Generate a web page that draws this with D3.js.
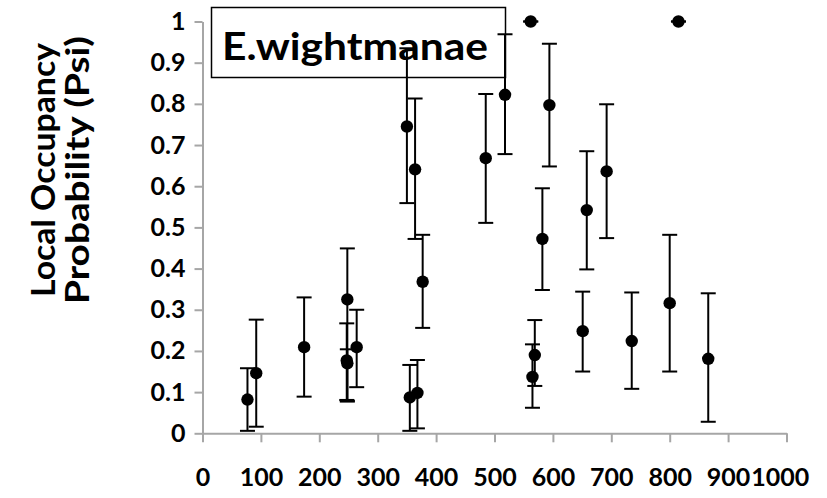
<!DOCTYPE html>
<html>
<head>
<meta charset="utf-8">
<script src="https://cdn.jsdelivr.net/npm/d3@7/dist/d3.min.js"></script>
<style>
  html, body { margin: 0; padding: 0; background: #fff; }
  svg { display: block; }
  text { font-family: Lato, "Open Sans", sans-serif; font-weight: bold; fill: #000; }
</style>
</head>
<body>
<svg id="chart" width="827" height="498"></svg>
<script>
// Site distance (x) and estimated local occupancy with its interval
const distance = [77, 92, 174, 248, 247, 248, 264, 350, 364, 377, 355, 368, 485, 518, 562, 594, 582, 569, 565, 658, 692, 651, 735, 800, 866, 815];
const psi      = [0.082, 0.146, 0.209, 0.325, 0.177, 0.170, 0.209, 0.745, 0.641, 0.368, 0.087, 0.098, 0.668, 0.822, 1.0, 0.797, 0.472, 0.190, 0.137, 0.542, 0.636, 0.248, 0.224, 0.316, 0.181, 1.0];
const upper    = [0.158, 0.276, 0.330, 0.449, 0.267, 0.204, 0.300, 0.935, 0.813, 0.482, 0.166, 0.178, 0.824, 0.969, 1.0, 0.946, 0.595, 0.275, 0.216, 0.685, 0.799, 0.344, 0.342, 0.482, 0.340, 1.0];
const lower    = [0.006, 0.016, 0.089, 0.079, 0.081, 0.077, 0.112, 0.559, 0.472, 0.256, 0.006, 0.012, 0.511, 0.678, 1.0, 0.648, 0.348, 0.115, 0.062, 0.398, 0.474, 0.150, 0.108, 0.150, 0.028, 1.0];

const xTicks = [0, 100, 200, 300, 400, 500, 600, 700, 800, 900, 1000];
const yTicks = [0, 0.1, 0.2, 0.3, 0.4, 0.5, 0.6, 0.7, 0.8, 0.9, 1];
const speciesLabel = "E.wightmanae";
const yTitle = ["Local Occupancy", "Probability (Psi)"];

const svg = d3.select("#chart");
const x = d3.scaleLinear().domain([0, 1000]).range([202.5, 786.5]);
const y = d3.scaleLinear().domain([0, 1]).range([433.3, 21.5]);

const axisColor = "#a6a6a6";
const chartRight = 796; // labels are kept inside the chart area

// Axes
const gx = svg.append("g").attr("transform", `translate(0,${y(0)})`)
  .call(d3.axisBottom(x).tickValues(xTicks).tickSize(9).tickSizeOuter(0).tickPadding(35)
    .tickFormat(d3.format("d")));
const gy = svg.append("g").attr("transform", `translate(${x(0)},0)`)
  .call(d3.axisLeft(y).tickValues(yTicks).tickSize(8).tickSizeOuter(0).tickPadding(9)
    .tickFormat(d => d === 0 || d === 1 ? d3.format("d")(d) : d3.format(".1f")(d)));
[gx, gy].forEach(g => {
  g.select(".domain").attr("stroke", axisColor).attr("stroke-width", 2);
  g.selectAll(".tick line").attr("stroke", axisColor).attr("stroke-width", 2);
  g.selectAll(".tick text").style("font-size", "25px").style("font-family", "Lato, sans-serif")
    .style("font-weight", "bold").attr("fill", "#000");
});
gx.selectAll(".tick text").attr("dy", "0.35em");

// Crowded labels at the right end: keep each one inside the chart area and
// just clear of its left neighbour.
let prevRight = -Infinity;
gx.selectAll(".tick").each(function (d) {
  const t = d3.select(this).select("text");
  const w = t.node().getComputedTextLength();
  let left = x(d) - w / 2;
  if (left + w > chartRight) left = chartRight - w;
  if (left < prevRight + 1) left = prevRight + 1;
  t.attr("x", left + w / 2 - x(d));
  prevRight = left + w;
});

// Species label box
svg.append("rect").attr("x", 211.5).attr("y", 7.5).attr("width", 294).attr("height", 70)
  .attr("fill", "#fff").attr("stroke", "#000").attr("stroke-width", 1.5);
svg.append("text").attr("x", 222).attr("y", 60).style("font-size", "38px")
  .attr("textLength", 266).attr("lengthAdjust", "spacingAndGlyphs").text(speciesLabel);

// Y axis title
const titleLengths = [254, 268];
const title = svg.append("text")
  .attr("transform", "translate(61,170) rotate(-90)")
  .attr("text-anchor", "middle").style("font-size", "32px");
title.selectAll("tspan").data(yTitle).join("tspan")
  .attr("x", 0).attr("dy", (d, i) => i === 0 ? "-0.2em" : "1.08em")
  .attr("textLength", (d, i) => titleLengths[i]).attr("lengthAdjust", "spacingAndGlyphs")
  .text(d => d);

// Error bars and markers
const pts = distance.map((d, i) => ({ x: d, y: psi[i], hi: upper[i], lo: lower[i] }));
const capHalf = 7.5;
const bars = svg.append("g").attr("stroke", "#000").attr("stroke-width", 2);
pts.forEach(p => {
  bars.append("line").attr("x1", x(p.x)).attr("x2", x(p.x)).attr("y1", y(p.hi)).attr("y2", y(p.lo));
  bars.append("line").attr("x1", x(p.x) - capHalf).attr("x2", x(p.x) + capHalf).attr("y1", y(p.hi)).attr("y2", y(p.hi));
  bars.append("line").attr("x1", x(p.x) - capHalf).attr("x2", x(p.x) + capHalf).attr("y1", y(p.lo)).attr("y2", y(p.lo));
});
svg.append("g").selectAll("circle").data(pts).join("circle")
  .attr("cx", d => x(d.x)).attr("cy", d => y(d.y)).attr("r", 6.2).attr("fill", "#000");
</script>
</body>
</html>
